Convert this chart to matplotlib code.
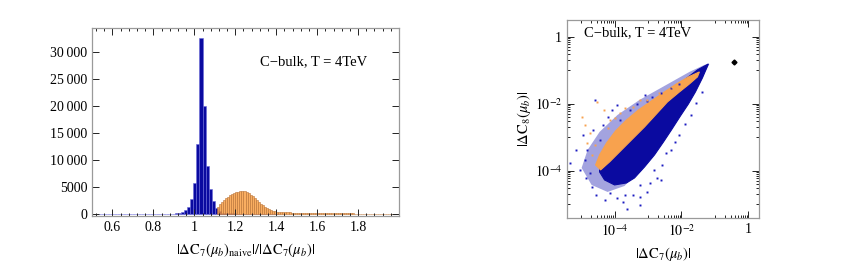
import numpy as np
import matplotlib
matplotlib.use("Agg")
import matplotlib.pyplot as plt
from matplotlib.ticker import FixedLocator, FuncFormatter, MultipleLocator

plt.rcParams['font.family'] = ['Liberation Serif', 'DejaVu Serif']
plt.rcParams['mathtext.fontset'] = 'stix'

# left panel: histograms
blue_start = 0.53
blue_width = 0.015
blue_counts = [15, 15, 20, 20, 20, 20, 25, 25, 25, 30, 30, 30, 35, 35, 40, 40,
               45, 50, 55, 60, 70, 80, 90, 110, 140, 200, 340, 520, 830, 1450,
               2800, 5750, 12950, 32600, 20000, 8950, 4640, 2400, 1150, 550,
               330, 260, 220, 190, 170, 150, 130, 110, 95, 80, 70, 60, 50, 40,
               35, 30, 25, 20, 15]

orange_start = 1.11
orange_width = 0.01
orange_counts = [1450, 1880, 2370, 2680, 3040, 3290, 3540, 3780, 3970, 4090,
                 4210, 4270, 4300, 4300, 4150, 3900, 3660, 3350, 2980, 2610,
                 2300, 2000, 1690, 1450, 1200, 1010, 830, 710, 580, 520,
                 470, 440, 410, 390, 370, 350, 335, 320, 310, 300,
                 290, 285, 280, 275, 270, 265, 260, 255, 250, 250,
                 245, 240, 235, 230, 225, 220, 215, 210, 205, 200,
                 195, 190, 185, 180, 175, 170, 165, 160, 160, 155,
                 150, 145, 140, 135, 130, 125, 120, 120, 115, 110,
                 110, 105, 100, 100, 95, 95, 90, 90, 85, 85]

hist_xticks = [0.6, 0.8, 1.0, 1.2, 1.4, 1.6, 1.8]
hist_xlabels = ['0.6', '0.8', '1', '1.2', '1.4', '1.6', '1.8']
hist_yticks = [0, 5000, 10000, 15000, 20000, 25000, 30000]

# right panel: log10 coordinates of the cloud outlines and loose points
blue_halo_lx = [-1.164, -1.403, -1.761, -2.119, -2.448, -2.806, -3.254, -3.701,
                -4.209, -4.687, -4.985, -4.806, -4.448, -3.910, -3.254, -2.507,
                -1.761, -1.313]
blue_halo_ly = [-0.815, -1.293, -1.890, -2.427, -2.875, -3.442, -3.979, -4.457,
                -4.636, -4.427, -3.919, -3.382, -2.845, -2.337, -1.890, -1.472,
                -1.054, -0.845]

blue_core_lx = [-1.194, -1.373, -1.582, -1.791, -2.030, -2.299, -2.537, -2.806,
                -3.104, -3.403, -3.642, -4.000, -4.299, -4.448, -4.448, -4.149,
                -3.701, -3.254, -2.806, -2.358, -1.910, -1.522]
blue_core_ly = [-0.815, -1.233, -1.651, -2.009, -2.367, -2.785, -3.143, -3.531,
                -3.890, -4.218, -4.367, -4.427, -4.278, -4.039, -3.830, -3.382,
                -2.845, -2.397, -2.009, -1.651, -1.293, -0.994]

orange_core_lx = [-1.463, -1.791, -2.149, -2.507, -2.896, -3.284, -3.642, -3.970,
                  -4.239, -4.448, -4.567, -4.418, -4.149, -3.851, -3.493, -3.104,
                  -2.746, -2.418, -2.060, -1.761, -1.522]
orange_core_ly = [-1.054, -1.203, -1.412, -1.651, -1.919, -2.188, -2.487, -2.815,
                  -3.173, -3.531, -3.830, -3.979, -3.740, -3.442, -3.084, -2.696,
                  -2.307, -1.949, -1.651, -1.412, -1.203]

blue_pts_lx = [-5.343, -5.164, -5.045, -4.836, -4.746, -4.687, -4.896, -4.567,
               -4.149, -3.940, -3.761, -3.642, -3.463, -3.254, -3.045, -2.955,
               -2.746, -2.597, -2.567, -2.448, -2.299, -2.060, -1.881, -1.701,
               -1.552, -1.373, -4.597, -4.209, -3.851, -3.552, -3.343, -3.045,
               -2.866, -2.597, -2.299, -2.060, -4.657, -4.358, -4.090, -4.955,
               -4.448, -3.701, -4.299, -3.254, -2.806, -2.179, -3.254, -4.866,
               -3.940, -3.104]
blue_pts_ly = [-3.770, -3.382, -3.979, -3.382, -4.069, -4.487, -3.681, -4.725,
               -4.666, -4.815, -4.934, -5.143, -4.725, -4.785, -4.636, -4.367,
               -4.218, -4.278, -3.830, -3.472, -3.382, -2.934, -2.606, -2.337,
               -1.979, -1.651, -1.890, -2.397, -2.487, -2.188, -2.009, -1.919,
               -1.800, -1.681, -1.531, -1.412, -2.785, -2.636, -2.188, -2.934,
               -3.084, -4.725, -4.875, -4.427, -3.979, -3.143, -5.024, -4.218,
               -2.039, -1.740]

orange_pts_lx = [-4.537, -4.985, -4.746, -4.149, -3.851, -3.463, -3.045, -2.657,
                 -2.269, -4.836, -4.687, -4.328, -4.000, -4.896, -3.701, -3.254,
                 -4.597, -4.209]
orange_pts_ly = [-1.949, -2.397, -2.875, -2.487, -2.278, -2.099, -1.890, -1.681,
                 -1.501, -3.173, -3.531, -2.188, -2.427, -2.636, -2.128, -1.890,
                 -3.233, -2.725]

ref_point = (0.36, 0.18)

blue = '#0a0aa0'
orange = '#f99a3a'
frame = '#9a9a9a'


def frame_style(ax):
    for s in ax.spines.values():
        s.set_color(frame)
        s.set_linewidth(0.9)
    ax.tick_params(which='both', direction='in', top=True, right=True,
                   color='#222222', labelsize=10, width=0.7)
    ax.tick_params(which='major', length=5)
    ax.tick_params(which='minor', length=2.5)


def log_label(v, pos):
    e = int(round(np.log10(v)))
    if e == 0:
        return '1'
    return r'$10^{%d}$' % e


fig = plt.figure(figsize=(8.6, 2.68), dpi=100)

ax1 = fig.add_axes([0.107, 0.194, 0.357, 0.702])
be = blue_start + blue_width * np.arange(len(blue_counts))
ax1.bar(be, blue_counts, width=blue_width, align='edge', color=blue,
        edgecolor='#6a6ad8', linewidth=0.4)
oe = orange_start + orange_width * np.arange(len(orange_counts))
ax1.bar(oe, orange_counts, width=orange_width, align='edge', color=orange,
        alpha=0.8, edgecolor='#b8743a', linewidth=0.5)
ax1.set_xlim(0.5, 2.0)
ax1.set_ylim(-300, 34400)
ax1.xaxis.set_major_locator(FixedLocator(hist_xticks))
ax1.set_xticklabels(hist_xlabels)
ax1.xaxis.set_minor_locator(MultipleLocator(0.04))
ax1.yaxis.set_major_locator(FixedLocator(hist_yticks))
ax1.yaxis.set_major_formatter(FuncFormatter(
    lambda v, p: ('%d' % v) if v < 10000 else ('%d\u2009000' % (v // 1000))))
frame_style(ax1)
ax1.tick_params(axis='y', which='minor', left=False, right=False)
ax1.set_xlabel(r'$|\Delta\mathrm{C}_7(\mu_b)_{\mathrm{naive}}|/|\Delta\mathrm{C}_7(\mu_b)|$',
               fontsize=10.5, labelpad=5)
ax1.text(0.547, 0.82, 'C\u2212bulk, T = 4TeV', transform=ax1.transAxes,
         fontsize=10.5, va='center')

ax2 = fig.add_axes([0.659, 0.187, 0.224, 0.739])
ax2.set_xscale('log')
ax2.set_yscale('log')
ax2.fill(10 ** np.array(blue_halo_lx), 10 ** np.array(blue_halo_ly),
         color='#2424b4', alpha=0.42, lw=0)
ax2.fill(10 ** np.array(blue_core_lx), 10 ** np.array(blue_core_ly),
         color=blue, lw=0.8)
ax2.plot(10 ** np.array(blue_pts_lx), 10 ** np.array(blue_pts_ly), 's',
         ms=1.4, color='#1a1ac0', mew=0)
ax2.fill(10 ** np.array(orange_core_lx), 10 ** np.array(orange_core_ly),
         color='#f8a24e', lw=0.8)
ax2.plot(10 ** np.array(orange_pts_lx), 10 ** np.array(orange_pts_ly), 's',
         ms=1.4, color='#f8a24e', mew=0)
ax2.plot([ref_point[0]], [ref_point[1]], 'D', ms=2.5, color='black')
ax2.set_xlim(10 ** -5.43, 10 ** 0.33)
ax2.set_ylim(10 ** -5.41, 10 ** 0.5)
majors = [1e-4, 1e-2, 1.0]
minors = [k * 10.0 ** e for e in (-5, -3, -1) for k in range(1, 10)]
for axis in (ax2.xaxis, ax2.yaxis):
    axis.set_major_locator(FixedLocator(majors))
    axis.set_minor_locator(FixedLocator(minors))
    axis.set_major_formatter(FuncFormatter(log_label))
    axis.set_minor_formatter(FuncFormatter(lambda v, p: ''))
frame_style(ax2)
ax2.set_xlabel(r'$|\Delta\mathrm{C}_7(\mu_b)|$', fontsize=10.5, labelpad=5)
ax2.set_ylabel(r'$|\Delta\mathrm{C}_8(\mu_b)|$', fontsize=10.5, labelpad=1)
ax2.text(0.09, 0.935, 'C\u2212bulk, T = 4TeV', transform=ax2.transAxes,
         fontsize=10.5, va='center')

fig.savefig('out.png', dpi=100)
